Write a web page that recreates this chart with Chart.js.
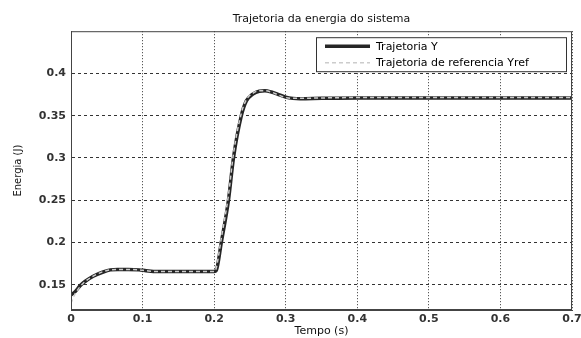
<!DOCTYPE html>
<html>
<head>
<meta charset="utf-8">
<script src="https://cdn.jsdelivr.net/npm/chart.js@4"></script>
<style>
  body { margin: 0; background: #fff; }
  #grafica { display: block; }
</style>
</head>
<body>
<canvas id="grafica" width="581" height="338"></canvas>
<script>
// tiempos de muestreo (s) y energia (J)
const tiempo = [0, 0.005, 0.013, 0.02, 0.031, 0.045, 0.055, 0.065, 0.08, 0.095, 0.105, 0.12, 0.2, 0.203, 0.21, 0.22, 0.227, 0.238, 0.245, 0.254, 0.263, 0.271, 0.28, 0.29, 0.3, 0.31, 0.32, 0.35, 0.4, 0.5, 0.6, 0.7];
const energiaY = [0.138, 0.141, 0.149, 0.154, 0.160, 0.165, 0.1675, 0.168, 0.168, 0.1675, 0.1665, 0.1655, 0.1655, 0.167, 0.2, 0.25, 0.3, 0.35, 0.3675, 0.3755, 0.379, 0.3795, 0.378, 0.375, 0.372, 0.3705, 0.370, 0.3705, 0.371, 0.371, 0.371, 0.371];
const energiaYref = [0.128, 0.138, 0.148, 0.154, 0.160, 0.1655, 0.1675, 0.168, 0.168, 0.1675, 0.1665, 0.1655, 0.1655, 0.170, 0.205, 0.256, 0.305, 0.353, 0.369, 0.3765, 0.3795, 0.3795, 0.378, 0.3745, 0.3715, 0.3705, 0.3705, 0.371, 0.3715, 0.3715, 0.3715, 0.3715];
const ticksX = [0, 0.1, 0.2, 0.3, 0.4, 0.5, 0.6, 0.7];
const ticksY = [0.15, 0.2, 0.25, 0.3, 0.35, 0.4];
const etiquetas = ['Trajetoria Y', 'Trajetoria de referencia Yref'];

const fuente = 'DejaVu Sans';
const puntos = (ys) => tiempo.map((t, i) => ({x: t, y: ys[i]}));

// caja de ejes completa (arriba y derecha incluidas)
const marcoEjes = {
    id: 'marcoEjes',
    afterDraw(chart) {
        const {ctx, chartArea: a} = chart;
        ctx.save();
        ctx.strokeStyle = '#444';
        ctx.lineWidth = 1;
        ctx.strokeRect(a.left + 0.5, a.top + 0.5, a.right - a.left - 1, a.bottom - a.top - 1);
        ctx.restore();
    }
};

// leyenda dentro del area de la grafica, esquina superior derecha
const leyendaInterna = {
    id: 'leyendaInterna',
    afterDraw(chart) {
        const {ctx, chartArea: a} = chart;
        const w = 250, h = 34;
        const x0 = a.right - 6 - w, y0 = a.top + 6;
        ctx.save();
        ctx.fillStyle = '#fff';
        ctx.fillRect(x0, y0, w, h);
        ctx.strokeStyle = '#333';
        ctx.lineWidth = 1;
        ctx.strokeRect(x0 + 0.5, y0 + 0.5, w, h);
        ctx.font = '11px "' + fuente + '"';
        ctx.textBaseline = 'middle';
        chart.data.datasets.forEach((ds, i) => {
            const y = y0 + 9 + i * 16.5;
            ctx.strokeStyle = ds.borderColor;
            ctx.lineWidth = ds.borderWidth;
            ctx.setLineDash(ds.borderDash || []);
            ctx.beginPath();
            ctx.moveTo(x0 + 9, y);
            ctx.lineTo(x0 + 54, y);
            ctx.stroke();
            ctx.setLineDash([]);
            ctx.fillStyle = '#000';
            ctx.fillText(etiquetas[i], x0 + 60, y + 0.5);
        });
        ctx.restore();
    }
};

new Chart(document.getElementById('grafica').getContext('2d'), {
    type: 'line',
    data: {
        datasets: [{
            label: etiquetas[0],
            data: puntos(energiaY),
            borderColor: '#262626',
            borderWidth: 3.5,
            pointRadius: 0,
            fill: false,
            order: 2,
            cubicInterpolationMode: 'monotone'
        }, {
            label: etiquetas[1],
            data: puntos(energiaYref),
            borderColor: '#cccccc',
            borderWidth: 1.5,
            borderDash: [4, 3],
            pointRadius: 0,
            fill: false,
            order: 1,
            cubicInterpolationMode: 'monotone'
        }]
    },
    options: {
        responsive: false,
        animation: false,
        layout: { padding: { top: 0, right: 9, bottom: 0, left: 0 } },
        plugins: {
            legend: { display: false },
            tooltip: { enabled: false },
            title: {
                display: true,
                text: 'Trajetoria da energia do sistema',
                fullSize: false,
                color: '#111',
                font: { family: fuente, size: 11, weight: 'normal' },
                padding: { top: 13, bottom: 5 }
            }
        },
        scales: {
            x: {
                type: 'linear',
                min: 0,
                max: 0.7,
                afterBuildTicks: (s) => { s.ticks = ticksX.map(v => ({value: v})); },
                afterFit: (s) => { s.height = 28; s.paddingLeft = 0; s.paddingRight = 0; },
                ticks: {
                    color: '#333',
                    padding: 3,
                    font: { family: fuente, size: 11, weight: 'bold' },
                    callback: (v) => String(v)
                },
                grid: { color: '#333', lineWidth: 1, drawTicks: false },
                border: { display: true, color: '#444', dash: [1, 2] },
                title: {
                    display: true,
                    text: 'Tempo (s)',
                    color: '#111',
                    font: { family: fuente, size: 11 },
                    padding: { top: 0, bottom: 0 }
                }
            },
            y: {
                min: 0.12,
                max: 0.45,
                afterBuildTicks: (s) => { s.ticks = ticksY.map(v => ({value: v})); },
                afterFit: (s) => { s.width = 71; },
                ticks: {
                    color: '#333',
                    padding: 5,
                    font: { family: fuente, size: 11, weight: 'bold' },
                    callback: (v) => String(v)
                },
                grid: { color: '#333', lineWidth: 1, drawTicks: false },
                border: { display: true, color: '#444', dash: [3, 3] },
                title: {
                    display: true,
                    text: 'Energia (J)',
                    color: '#111',
                    font: { family: fuente, size: 10 },
                    padding: { top: 12, bottom: 0 }
                }
            }
        }
    },
    plugins: [marcoEjes, leyendaInterna]
});
</script>
</body>
</html>
